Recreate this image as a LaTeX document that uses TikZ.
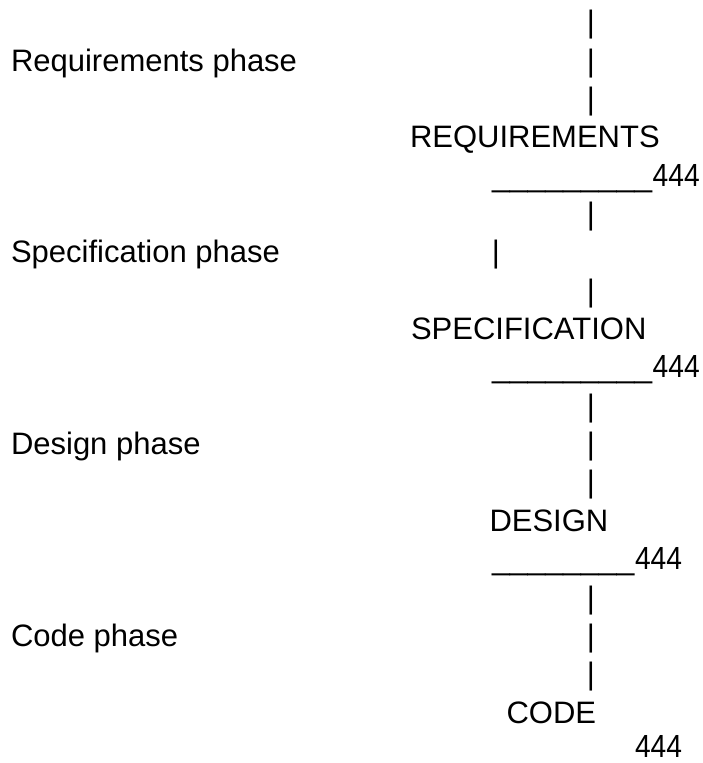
\documentclass[tikz,border=0pt]{standalone}
\usepackage{fontspec}
\setmainfont{Liberation Sans}
\newfontfamily\narrowdigits[FakeStretch=0.88]{Liberation Sans}
\begin{document}
\begin{tikzpicture}[x=1pt,y=-1pt,
  txt/.style={font=\fontsize{31}{31}\selectfont, inner sep=0pt, outer sep=0pt, anchor=base west},
  bar/.style={txt, anchor=base},
  rulefill/.style={font=\fontsize{32}{32}\selectfont, inner sep=0pt, outer sep=0pt, anchor=base west},
  num/.style={font=\narrowdigits\fontsize{32}{32}\selectfont, inner sep=0pt, outer sep=0pt, anchor=base west}]
\useasboundingbox (0,0) rectangle (702,763);
% baselines b(n) = 32.6 + 38.36 n
\foreach \n/\y in {0/32.6,1/71.0,2/109.3,5/224.4,7/301.1,10/416.2,11/454.6,12/492.9,15/608.0,16/646.4,17/684.7}
  \node[bar] (bar\n) at (591,\y) {|};
\node[bar] (bar6) at (496,262.8) {|};
% phase labels
\node[txt] (reqphase) at (11,71.0) {Requirements phase};
\node[txt] (specphase) at (11,262.8) {Specification phase};
\node[txt] (desphase) at (11,454.6) {Design phase};
\node[txt] (codephase) at (11,646.4) {Code phase};
% stage names
\node[txt] (req) at (410,147.7) {REQUIREMENTS};
\node[txt] (spec) at (411,339.5) {SPECIFICATION};
\node[txt] (des) at (489.5,531.3) {DESIGN};
\node[txt] (code) at (506.5,723.1) {CODE};
% underscores and numbers
\node[rulefill] (ul1) at (492,186.0) {\_\_\_\_\_\_\_\_\_};
\node[num] (n1) at (652.7,186.0) {444};
\node[rulefill] (ul2) at (492,377.8) {\_\_\_\_\_\_\_\_\_};
\node[num] (n2) at (652.7,377.8) {444};
\node[rulefill] (ul3) at (492,569.6) {\_\_\_\_\_\_\_\_};
\node[num] (n3) at (635,569.6) {444};
\node[num] (n4) at (635,757) {444};
\end{tikzpicture}
\end{document}
